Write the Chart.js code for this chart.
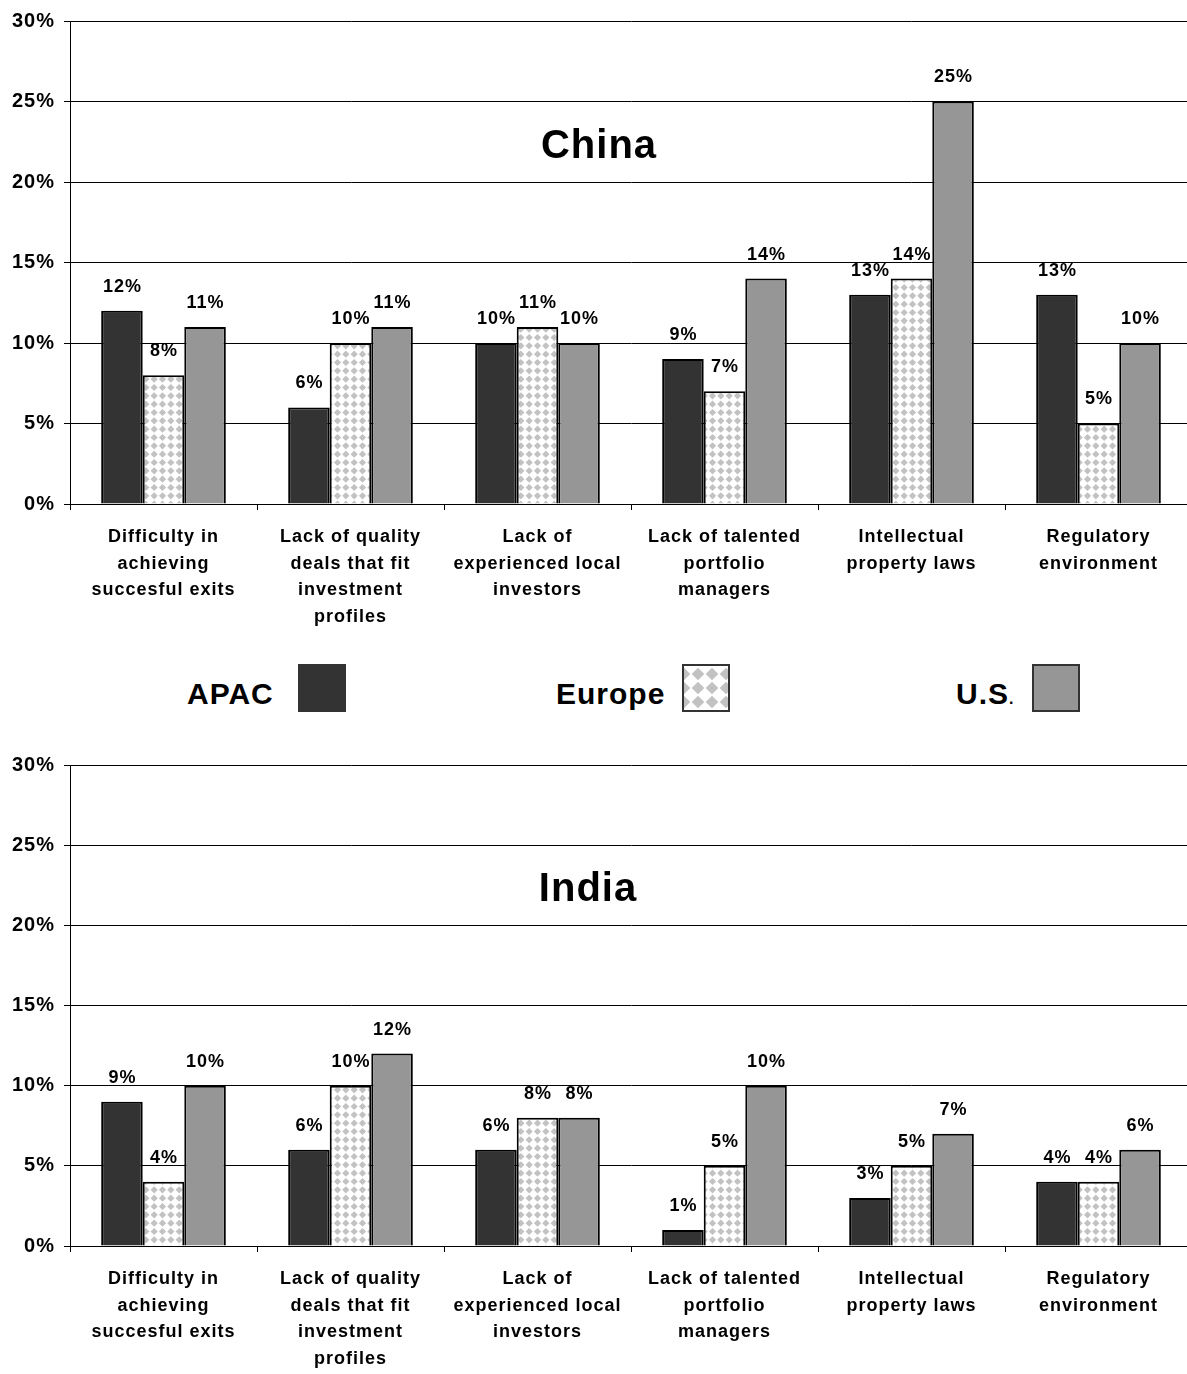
<!DOCTYPE html>
<html>
<head>
<meta charset="utf-8">
<title>Obstacles to investment – China and India</title>
<script src="https://cdn.jsdelivr.net/npm/chart.js@4.4.0/dist/chart.umd.min.js"></script>
<style>
  html, body { margin: 0; padding: 0; background: #fff; overflow: hidden; width: 1187px; height: 1374px; }
  #wrap { position: relative; width: 1192px; height: 1374px; }
  #chinaChart { position: absolute; left: 0; top: 0; }
  #indiaChart { position: absolute; left: 0; top: 744px; }
  .legText {
    position: absolute; font: bold 30px "Liberation Sans", Arial, sans-serif;
    letter-spacing: 1px; line-height: 30px; color: #000; white-space: nowrap;
  }
  .legText small { font-size: 16px; letter-spacing: 0; }
  .legBox { position: absolute; width: 48px; height: 48px; box-sizing: border-box; border: 2px solid #333; }
</style>
</head>
<body>
<div id="wrap">
  <canvas id="chinaChart" width="1192" height="645"></canvas>

  <div class="legText" style="left:187px; top:679px;">APAC</div>
  <div class="legBox" id="legApac" style="left:298px; top:664px;"></div>
  <div class="legText" style="left:556px; top:679px;">Europe</div>
  <canvas class="legBox" id="legEurope" width="44" height="44" style="left:682px; top:664px;"></canvas>
  <div class="legText" style="left:956px; top:679px;">U.S<small>.</small></div>
  <div class="legBox" id="legUs" style="left:1032px; top:664px;"></div>

  <canvas id="indiaChart" width="1192" height="630"></canvas>
</div>

<script>
// ---- data ----
const categories = [
  ["Difficulty in", "achieving", "succesful exits"],
  ["Lack of quality", "deals that fit", "investment", "profiles"],
  ["Lack of", "experienced local", "investors"],
  ["Lack of talented", "portfolio", "managers"],
  ["Intellectual", "property laws"],
  ["Regulatory", "environment"]
];
const seriesNames = ["APAC", "Europe", "U.S."];

const chinaApac   = [12, 6, 10, 9, 13, 13];
const chinaEurope = [8, 10, 11, 7, 14, 5];
const chinaUs     = [11, 11, 10, 14, 25, 10];

const indiaApac   = [9, 6, 6, 1, 3, 4];
const indiaEurope = [4, 10, 8, 5, 5, 4];
const indiaUs     = [10, 12, 8, 10, 7, 6];

const yTicks = [0, 5, 10, 15, 20, 25, 30];

// ---- styling ----
const FONT = '"Liberation Sans", Arial, sans-serif';
Chart.defaults.font.family = FONT;
Chart.defaults.color = '#000';

const APAC_COLOR = '#333333';
const US_COLOR = '#969696';
const DOT_COLOR = '#c2c2c2';

// Diamond dot fill used for the Europe series
function diamondTile(size, count, radius) {
  const c = document.createElement('canvas');
  c.width = size; c.height = size;
  const g = c.getContext('2d');
  g.fillStyle = '#fff';
  g.fillRect(0, 0, size, size);
  g.fillStyle = DOT_COLOR;
  const step = size / count;
  for (let i = 0; i < count; i++) {
    for (let j = 0; j < count; j++) {
      const cx = step / 2 + i * step, cy = step / 2 + j * step;
      g.beginPath();
      g.moveTo(cx, cy - radius);
      g.lineTo(cx + radius, cy);
      g.lineTo(cx, cy + radius);
      g.lineTo(cx - radius, cy);
      g.closePath();
      g.fill();
    }
  }
  return c;
}
const patternCtx = document.createElement('canvas').getContext('2d');
const europeFill = patternCtx.createPattern(diamondTile(25, 3, 3.6), 'repeat');

// Legend swatches
document.getElementById('legApac').style.background = APAC_COLOR;
document.getElementById('legUs').style.background = US_COLOR;
(function () {
  const lc = document.getElementById('legEurope').getContext('2d');
  lc.fillStyle = lc.createPattern(diamondTile(28, 2, 6.3), 'repeat');
  lc.translate(-7, 1);
  lc.fillRect(7, -1, 44, 44);
})();

// Text spacing applied to everything drawn on the chart canvases
const spacing = {
  id: 'spacing',
  beforeUpdate(chart) { chart.ctx.letterSpacing = '1px'; },
  beforeDraw(chart) { chart.ctx.letterSpacing = '1px'; }
};

// Value labels above each bar
const valueLabels = {
  id: 'valueLabels',
  afterDatasetsDraw(chart) {
    const ctx = chart.ctx;
    ctx.save();
    ctx.letterSpacing = '1px';
    ctx.font = 'bold 18px ' + FONT;
    ctx.fillStyle = '#000';
    ctx.textAlign = 'center';
    ctx.textBaseline = 'middle';
    chart.data.datasets.forEach((ds, i) => {
      chart.getDatasetMeta(i).data.forEach((bar, j) => {
        ctx.fillText(ds.data[j] + '%', bar.x + 0.5, bar.y - 24);
      });
    });
    ctx.restore();
  }
};

// Country name inside the plot area
const countryTitle = {
  id: 'countryTitle',
  afterDraw(chart, args, opts) {
    const ctx = chart.ctx;
    const y = chart.scales.y.getPixelForValue(opts.value);
    ctx.save();
    ctx.letterSpacing = '1px';
    ctx.font = 'bold 40px ' + FONT;
    ctx.fillStyle = '#000';
    ctx.textAlign = 'center';
    ctx.textBaseline = 'middle';
    ctx.fillText(opts.text, opts.x, y);
    ctx.restore();
  }
};

function makeChart(canvasId, apac, europe, us, title, titleX, areaBottom) {
  const canvas = document.getElementById(canvasId);
  const H = canvas.height;
  return new Chart(canvas, {
    type: 'bar',
    data: {
      labels: categories,
      datasets: [
        { label: seriesNames[0], data: apac, backgroundColor: APAC_COLOR },
        { label: seriesNames[1], data: europe, backgroundColor: europeFill },
        { label: seriesNames[2], data: us, backgroundColor: US_COLOR }
      ]
    },
    options: {
      responsive: false,
      animation: false,
      events: [],
      layout: { padding: { top: 19, left: 0, right: 0, bottom: 0 } },
      datasets: {
        bar: {
          borderColor: '#000',
          borderWidth: 2,
          barPercentage: 1,
          categoryPercentage: 2 / 3
        }
      },
      plugins: {
        legend: { display: false },
        tooltip: { enabled: false },
        title: { display: false },
        countryTitle: { text: title, x: titleX, value: 22.2 }
      },
      scales: {
        x: {
          offset: true,
          grid: { offset: true, drawOnChartArea: false, drawTicks: true, tickLength: 6, color: '#000', lineWidth: 1 },
          border: { display: true, color: '#000', width: 1 },
          ticks: {
            autoSkip: false, maxRotation: 0, minRotation: 0, padding: 13.5,
            color: '#000',
            font: { size: 18, weight: 'bold', lineHeight: '26.7px' }
          },
          afterFit(s) { s.height = H - areaBottom; }
        },
        y: {
          min: 0, max: 30,
          afterBuildTicks(s) { s.ticks = yTicks.map(v => ({ value: v })); },
          grid: { color: '#000', lineWidth: 1, drawTicks: true, tickLength: 6 },
          border: { display: true, color: '#000', width: 1 },
          ticks: {
            padding: 9,
            color: '#000',
            font: { size: 20, weight: 'bold' },
            callback: v => v + '%'
          },
          afterFit(s) { s.width = 70; }
        }
      }
    },
    plugins: [spacing, valueLabels, countryTitle]
  });
}

makeChart('chinaChart', chinaApac, chinaEurope, chinaUs, 'China', 599, 504);
makeChart('indiaChart', indiaApac, indiaEurope, indiaUs, 'India', 588, 502);
</script>
</body>
</html>
